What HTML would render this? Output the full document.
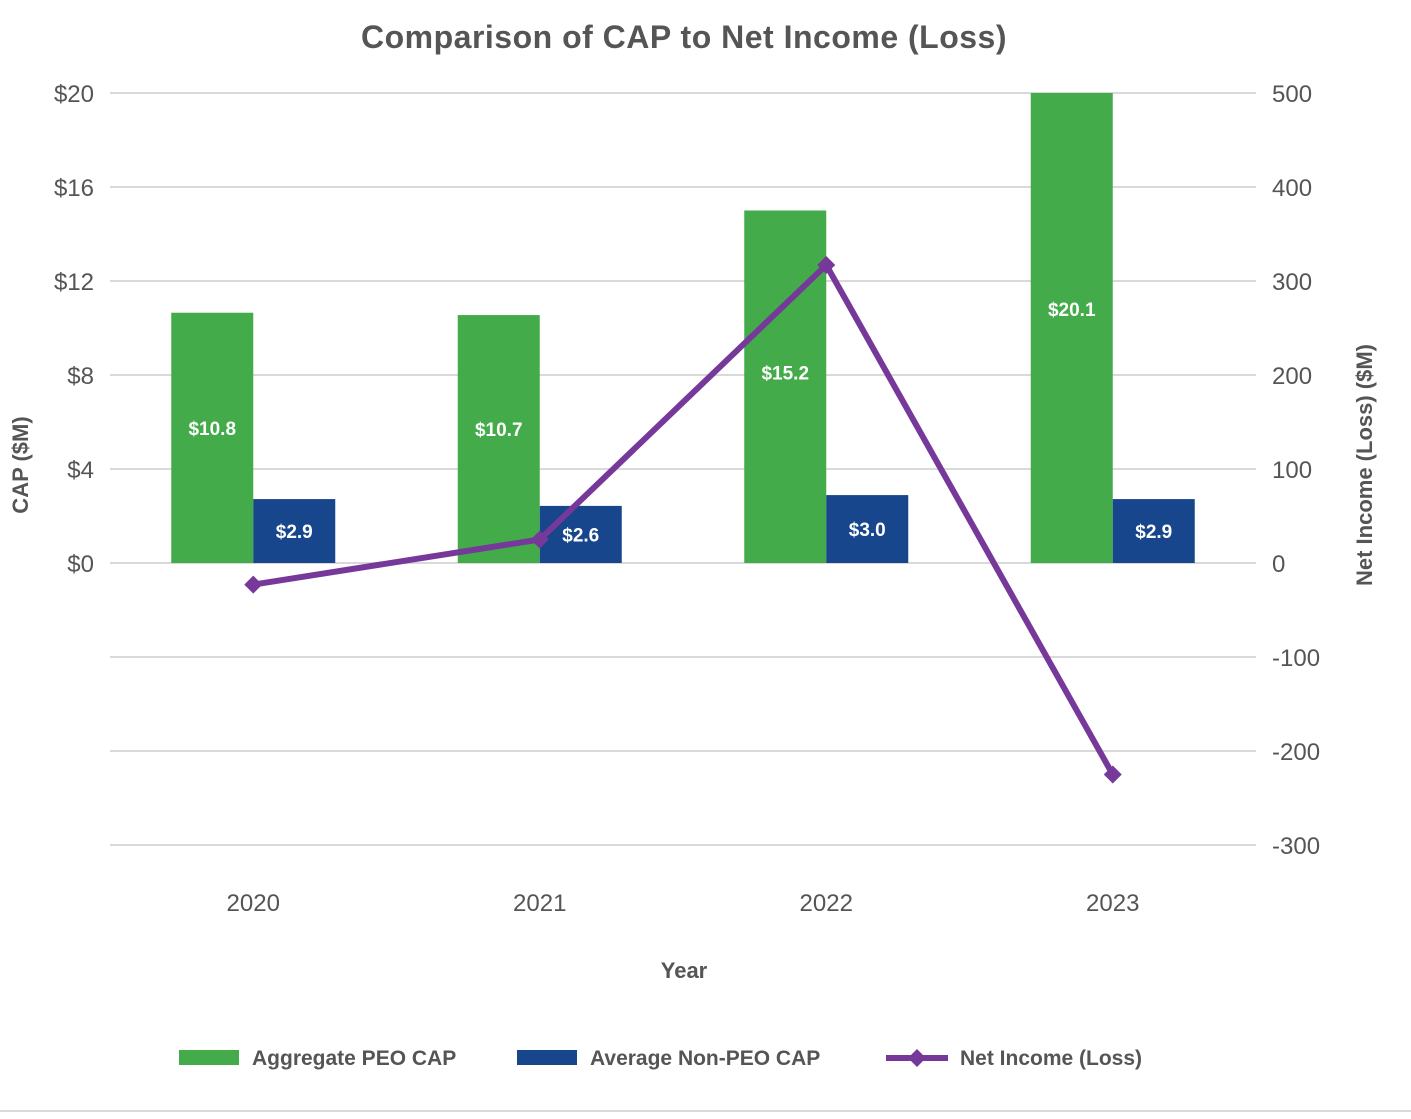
<!DOCTYPE html>
<html><head><meta charset="utf-8"><style>
body{margin:0;background:#fff;font-family:"Liberation Sans",sans-serif;}
svg text{font-family:"Liberation Sans",sans-serif;}
</style></head><body>
<svg id="c" width="1411" height="1114"></svg>
<script>
const years=["2020","2021","2022","2023"];
const peoCap=[10.65,10.55,15.0,20.0];
const peoLabels=["$10.8","$10.7","$15.2","$20.1"];
const nonPeoCap=[2.72,2.43,2.89,2.72];
const nonPeoLabels=["$2.9","$2.6","$3.0","$2.9"];
const netIncome=[-23,25,317,-225];
const leftTicks=["$20","$16","$12","$8","$4","$0"];
const leftTickVals=[20,16,12,8,4,0];
const rightTickVals=[500,400,300,200,100,0,-100,-200,-300];

const svg=document.getElementById('c');
const NS="http://www.w3.org/2000/svg";
const X0=110,X1=1256,Y0=563;
const yL=v=>Y0-v*23.5;
const yR=v=>Y0-v*0.94;
const band=(X1-X0)/years.length;
const xC=i=>X0+band*(i+0.5);
function mk(t,a,txt){const e=document.createElementNS(NS,t);for(const k in a)e.setAttribute(k,a[k]);if(txt!==undefined)e.textContent=txt;svg.appendChild(e);return e;}

let e=mk('text',{x:684,y:48,'text-anchor':'middle','font-size':32,'font-weight':'bold',fill:'#555','letter-spacing':0.5},'Comparison of CAP to Net Income (Loss)');



rightTickVals.forEach(v=>{
 const y=yR(v);
 let g=mk('line',{x1:X0,x2:X1,y1:y,y2:y,stroke:'#d9d9d9','stroke-width':2});
 
 
 let t=mk('text',{x:1272,y:y+9,'font-size':24,fill:'#555'},String(v));
 
 
});
leftTickVals.forEach((v,i)=>{
 let t=mk('text',{x:94,y:yL(v)+9,'text-anchor':'end','font-size':24,fill:'#555'},leftTicks[i]);
 
 
});

const bw=82;
years.forEach((yr,i)=>{
 const c=xC(i);
 const top=yL(peoCap[i]);
 let b=mk('rect',{x:c-bw,y:top,width:bw,height:Y0-top,fill:'#43ab49'});
 
 
 let l=mk('text',{x:c-bw/2,y:(top+Y0)/2+7-(Y0-top)*0.04,'text-anchor':'middle','font-size':19,'font-weight':'bold',fill:'#fff'},peoLabels[i]);
 
 
 let b2=mk('rect',{x:c,y:yL(nonPeoCap[i]),width:bw,height:Y0-yL(nonPeoCap[i]),fill:'#17468c'});
 
 
 let l2=mk('text',{x:c+bw/2,y:(yL(nonPeoCap[i])+Y0)/2+7,'text-anchor':'middle','font-size':19,'font-weight':'bold',fill:'#fff'},nonPeoLabels[i]);
 
 
 let xl=mk('text',{x:c,y:911,'text-anchor':'middle','font-size':24,fill:'#555'},yr);
 
 
});

const pts=netIncome.map((v,i)=>xC(i)+','+yR(v)).join(' ');
let pl=mk('polyline',{points:pts,fill:'none',stroke:'#76399a','stroke-width':6,'stroke-linejoin':'round'});


netIncome.forEach((v,i)=>{
 const x=xC(i),y=yR(v);
 let m=mk('polygon',{points:`${x},${y-9} ${x+9},${y} ${x},${y+9} ${x-9},${y}`,fill:'#76399a'});
 
 
});

e=mk('text',{x:28,y:465,'text-anchor':'middle','font-size':22,'font-weight':'bold',fill:'#555',transform:'rotate(-90 28 465)'},'CAP ($M)');


e=mk('text',{x:1372,y:465,'text-anchor':'middle','font-size':22,'font-weight':'bold',fill:'#555',transform:'rotate(-90 1372 465)'},'Net Income (Loss) ($M)');


e=mk('text',{x:684,y:978,'text-anchor':'middle','font-size':22,'font-weight':'bold',fill:'#555'},'Year');



e=mk('rect',{x:179,y:1050,width:60,height:15,fill:'#43ab49'});


e=mk('text',{x:252,y:1065,'font-size':21,'font-weight':'bold',fill:'#555'},'Aggregate PEO CAP');


e=mk('rect',{x:517,y:1050,width:60,height:15,fill:'#17468c'});


e=mk('text',{x:590,y:1065,'font-size':21,'font-weight':'bold',fill:'#555'},'Average Non-PEO CAP');


e=mk('line',{x1:886,x2:948,y1:1058,y2:1058,stroke:'#76399a','stroke-width':6});


e=mk('polygon',{points:'917,1049 926,1058 917,1067 908,1058',fill:'#76399a'});


e=mk('text',{x:960,y:1065,'font-size':21,'font-weight':'bold',fill:'#555'},'Net Income (Loss)');


e=mk('line',{x1:0,x2:1411,y1:1111,y2:1111,stroke:'#d9d9d9','stroke-width':2});


</script>
</body></html>
